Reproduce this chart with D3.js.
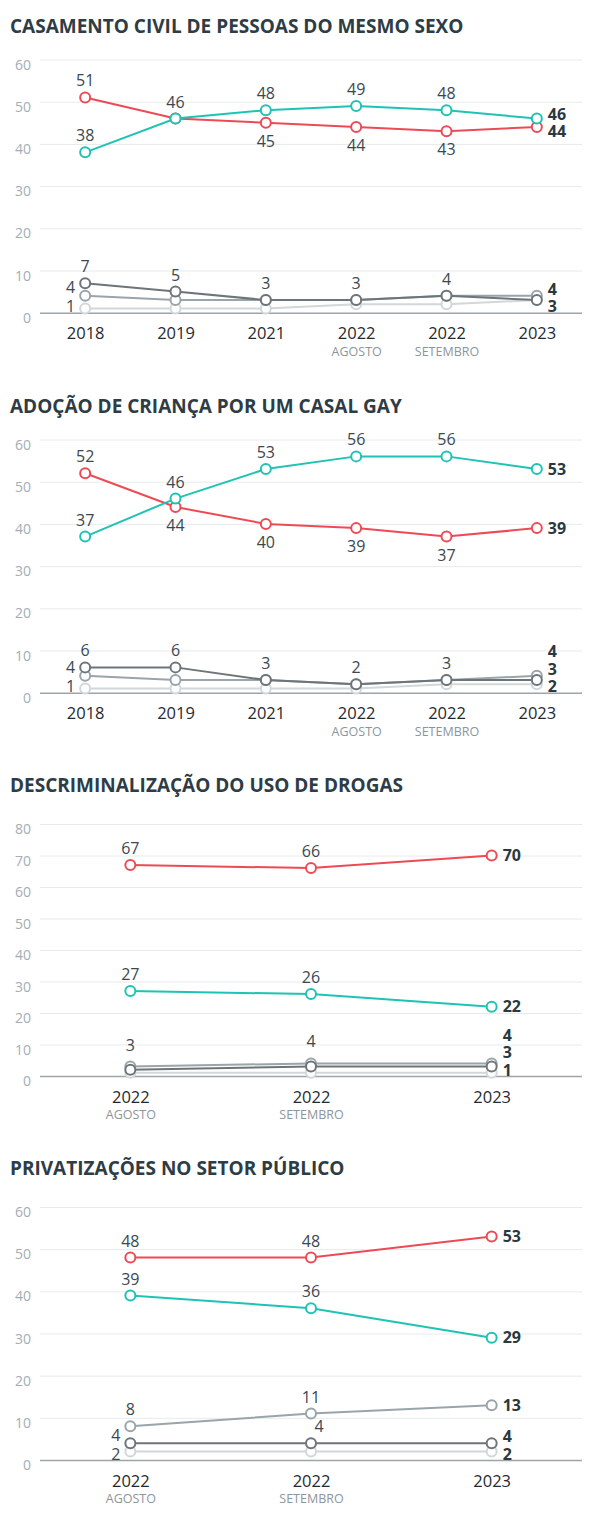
<!DOCTYPE html>
<html>
<head>
<meta charset="utf-8">
<script src="https://cdn.jsdelivr.net/npm/d3@7"></script>
<style>
  body { margin: 0; background: #fff; }
  svg { display: block; font-family: "Open Sans", sans-serif; }
</style>
</head>
<body>
<div id="chart"></div>
<script>
// ---- data ----
var yearsLong = ["2018", "2019", "2021", "2022", "2022", "2023"];
var monthsLong = ["", "", "", "AGOSTO", "SETEMBRO", ""];
var yearsShort = ["2022", "2022", "2023"];
var monthsShort = ["AGOSTO", "SETEMBRO", ""];

var casamentoContra = [51, 46, 45, 44, 43, 44];
var casamentoFavor = [38, 46, 48, 49, 48, 46];
var casamentoEscuro = [7, 5, 3, 3, 4, 3];
var casamentoMedio = [4, 3, 3, 3, 4, 4];
var casamentoClaro = [1, 1, 1, 2, 2, 3];

var adocaoContra = [52, 44, 40, 39, 37, 39];
var adocaoFavor = [37, 46, 53, 56, 56, 53];
var adocaoEscuro = [6, 6, 3, 2, 3, 3];
var adocaoMedio = [4, 3, 3, 2, 3, 4];
var adocaoClaro = [1, 1, 1, 1, 2, 2];

var drogasContra = [67, 66, 70];
var drogasFavor = [27, 26, 22];
var drogasEscuro = [2, 3, 3];
var drogasMedio = [3, 4, 4];
var drogasClaro = [1, 1, 1];

var privContra = [48, 48, 53];
var privFavor = [39, 36, 29];
var privEscuro = [4, 4, 4];
var privMedio = [8, 11, 13];
var privClaro = [2, 2, 2];

var ticks60 = [0, 10, 20, 30, 40, 50, 60];
var ticks80 = [0, 10, 20, 30, 40, 50, 60, 70, 80];

// where each value label goes: a = above, aa = higher above, b = below, l = left, r = right (bold), ar = above right
var lblCasContra = ["a", "", "b", "b", "b", "r"];
var lblCasFavor = ["a", "a", "a", "a", "a", "r"];
var lblCasEscuro = ["a", "a", "a", "a", "a", "r"];
var lblCasMedio = ["l", "", "", "", "", "r"];
var lblCasClaro = ["l", "", "", "", "", ""];

var lblAdoContra = ["a", "b", "b", "b", "b", "r"];
var lblAdoFavor = ["a", "a", "a", "a", "a", "r"];
var lblAdoEscuro = ["a", "a", "a", "a", "a", "r"];
var lblAdoMedio = ["l", "", "", "", "", "r"];
var lblAdoClaro = ["l", "", "", "", "", "r"];

var lblDroContra = ["a", "a", "r"];
var lblDroFavor = ["a", "a", "r"];
var lblDroEscuro = ["", "", "r"];
var lblDroMedio = ["aa", "aa", "r"];
var lblDroClaro = ["", "", "r"];

var lblPriContra = ["a", "a", "r"];
var lblPriFavor = ["a", "a", "r"];
var lblPriEscuro = ["l", "ar", "r"];
var lblPriMedio = ["a", "a", "r"];
var lblPriClaro = ["l", "", "r"];

// ---- styles ----
const RED = "#ee4a56";
const TEAL = "#1fc3b3";
const DARK = "#6d7579";
const MID = "#9aa4ab";
const LIGHT = "#d2d7da";

const width = 600, height = 1516;
const left = 40, right = 582;

var charts = [
    { title: "CASAMENTO CIVIL DE PESSOAS DO MESMO SEXO", years: yearsLong, months: monthsLong,
      ticks: ticks60, titleY: 33, top: 59.5, bottom: 312.7,
      series: [
        { values: casamentoClaro, color: LIGHT, labels: lblCasClaro },
        { values: casamentoMedio, color: MID, labels: lblCasMedio },
        { values: casamentoEscuro, color: DARK, labels: lblCasEscuro },
        { values: casamentoContra, color: RED, labels: lblCasContra },
        { values: casamentoFavor, color: TEAL, labels: lblCasFavor }
      ] },
    { title: "ADOÇÃO DE CRIANÇA POR UM CASAL GAY", years: yearsLong, months: monthsLong,
      ticks: ticks60, titleY: 413, top: 439.5, bottom: 692.7,
      series: [
        { values: adocaoClaro, color: LIGHT, labels: lblAdoClaro },
        { values: adocaoMedio, color: MID, labels: lblAdoMedio },
        { values: adocaoEscuro, color: DARK, labels: lblAdoEscuro },
        { values: adocaoContra, color: RED, labels: lblAdoContra },
        { values: adocaoFavor, color: TEAL, labels: lblAdoFavor }
      ] },
    { title: "DESCRIMINALIZAÇÃO DO USO DE DROGAS", years: yearsShort, months: monthsShort,
      ticks: ticks80, titleY: 792, top: 824, bottom: 1076,
      series: [
        { values: drogasClaro, color: LIGHT, labels: lblDroClaro },
        { values: drogasMedio, color: MID, labels: lblDroMedio },
        { values: drogasEscuro, color: DARK, labels: lblDroEscuro },
        { values: drogasContra, color: RED, labels: lblDroContra },
        { values: drogasFavor, color: TEAL, labels: lblDroFavor }
      ] },
    { title: "PRIVATIZAÇÕES NO SETOR PÚBLICO", years: yearsShort, months: monthsShort,
      ticks: ticks60, titleY: 1175, top: 1207, bottom: 1460,
      series: [
        { values: privClaro, color: LIGHT, labels: lblPriClaro },
        { values: privMedio, color: MID, labels: lblPriMedio },
        { values: privEscuro, color: DARK, labels: lblPriEscuro },
        { values: privContra, color: RED, labels: lblPriContra },
        { values: privFavor, color: TEAL, labels: lblPriFavor }
      ] }
];

var svg = d3.select("#chart").append("svg")
    .attr("width", width)
    .attr("height", height);

// push overlapping side labels apart, keep them above the baseline
function spread(items, gap, maxY) {
    items.sort(function (a, b) { return a.y - b.y; });
    for (var k = 0; k < 80; k++) {
        for (var i = 1; i < items.length; i++) {
            var d = items[i].y - items[i - 1].y;
            if (d < gap) {
                var s = (gap - d) / 2;
                items[i - 1].y -= s;
                items[i].y += s;
            }
        }
    }
    var n = items.length;
    if (n && items[n - 1].y > maxY) {
        items[n - 1].y = maxY;
        for (var j = n - 2; j >= 0; j--) {
            items[j].y = Math.min(items[j].y, items[j + 1].y - gap);
        }
    }
}

function drawChart(c) {
    var g = svg.append("g");
    var n = c.years.length;

    g.append("text")
        .attr("x", 10)
        .attr("y", c.titleY)
        .attr("fill", "#2e3c45")
        .attr("font-size", 19)
        .attr("font-weight", 700)
        .text(c.title);

    var y = d3.scaleLinear()
        .domain([0, d3.max(c.ticks)])
        .range([c.bottom, c.top]);

    var x = d3.scalePoint()
        .domain(d3.range(n))
        .range([left, right])
        .padding(0.5);

    var yAxis = g.append("g")
        .attr("transform", "translate(" + left + ",0)")
        .call(d3.axisLeft(y)
            .tickValues(c.ticks)
            .tickSize(-(right - left))
            .tickPadding(9));
    yAxis.select(".domain").remove();
    yAxis.selectAll(".tick line")
        .attr("stroke", function (d) { return d === 0 ? "#9ea4a8" : "#e7eaec"; })
        .attr("stroke-width", function (d) { return d === 0 ? 1.5 : 1; });
    yAxis.selectAll(".tick text")
        .attr("fill", "#a3adb4")
        .attr("font-size", 14)
        .attr("font-family", "Open Sans, sans-serif")
        .attr("dy", "0.68em");

    var xAxis = g.append("g")
        .attr("transform", "translate(0," + c.bottom + ")")
        .call(d3.axisBottom(x)
            .tickSize(0)
            .tickPadding(15)
            .tickFormat(function (i) { return c.years[i]; }));
    xAxis.select(".domain").remove();
    xAxis.selectAll(".tick text")
        .attr("fill", "#1f2a30")
        .attr("font-size", 16.5)
        .attr("font-family", "Open Sans, sans-serif");
    xAxis.selectAll(".tick")
        .append("text")
        .attr("y", 43)
        .attr("fill", "#8b959c")
        .attr("font-size", 12.5)
        .attr("font-family", "Open Sans, sans-serif")
        .attr("text-anchor", "middle")
        .text(function (i) { return c.months[i]; });

    var line = d3.line()
        .x(function (d, i) { return x(i); })
        .y(function (d) { return y(d); });

    c.series.forEach(function (s) {
        g.append("path")
            .datum(s.values)
            .attr("fill", "none")
            .attr("stroke", s.color)
            .attr("stroke-width", 2)
            .attr("d", line);

        g.selectAll(null)
            .data(s.values)
            .enter()
            .append("circle")
            .attr("cx", function (d, i) { return x(i); })
            .attr("cy", function (d) { return y(d); })
            .attr("r", 5)
            .attr("fill", "#fff")
            .attr("stroke", s.color)
            .attr("stroke-width", 2);
    });

    // value labels
    var labels = [];
    var sides = {};
    c.series.forEach(function (s) {
        s.values.forEach(function (v, i) {
            var pos = s.labels[i];
            if (!pos) return;
            var lb = { text: v, x: x(i), y: y(v), pos: pos };
            if (pos === "a") { lb.base = y(v) - 11; }
            else if (pos === "aa") { lb.base = y(v) - 16; }
            else if (pos === "ar") { lb.base = y(v) - 11; lb.x += 8; }
            else if (pos === "b") { lb.base = y(v) + 24; }
            else {
                var key = pos + i;
                (sides[key] = sides[key] || []).push(lb);
            }
            labels.push(lb);
        });
    });
    Object.keys(sides).forEach(function (k) {
        var gap = k.charAt(0) === "l" ? 19 : 17.5;
        spread(sides[k], gap, c.bottom - 6);
        sides[k].forEach(function (lb) { lb.base = lb.y + 5.7; });
    });

    g.selectAll(null)
        .data(labels)
        .enter()
        .append("text")
        .attr("x", function (d) {
            if (d.pos === "r") return d.x + 11;
            if (d.pos === "l") return d.x - 10;
            return d.x;
        })
        .attr("y", function (d) { return d.base; })
        .attr("text-anchor", function (d) {
            if (d.pos === "r") return "start";
            if (d.pos === "l") return "end";
            return "middle";
        })
        .attr("font-size", 16)
        .attr("font-weight", function (d) { return d.pos === "r" ? 700 : 400; })
        .attr("fill", function (d) { return d.pos === "r" ? "#2b3840" : "#3b4850"; })
        .text(function (d) { return d.text; });
}

charts.forEach(drawChart);
</script>
</body>
</html>
